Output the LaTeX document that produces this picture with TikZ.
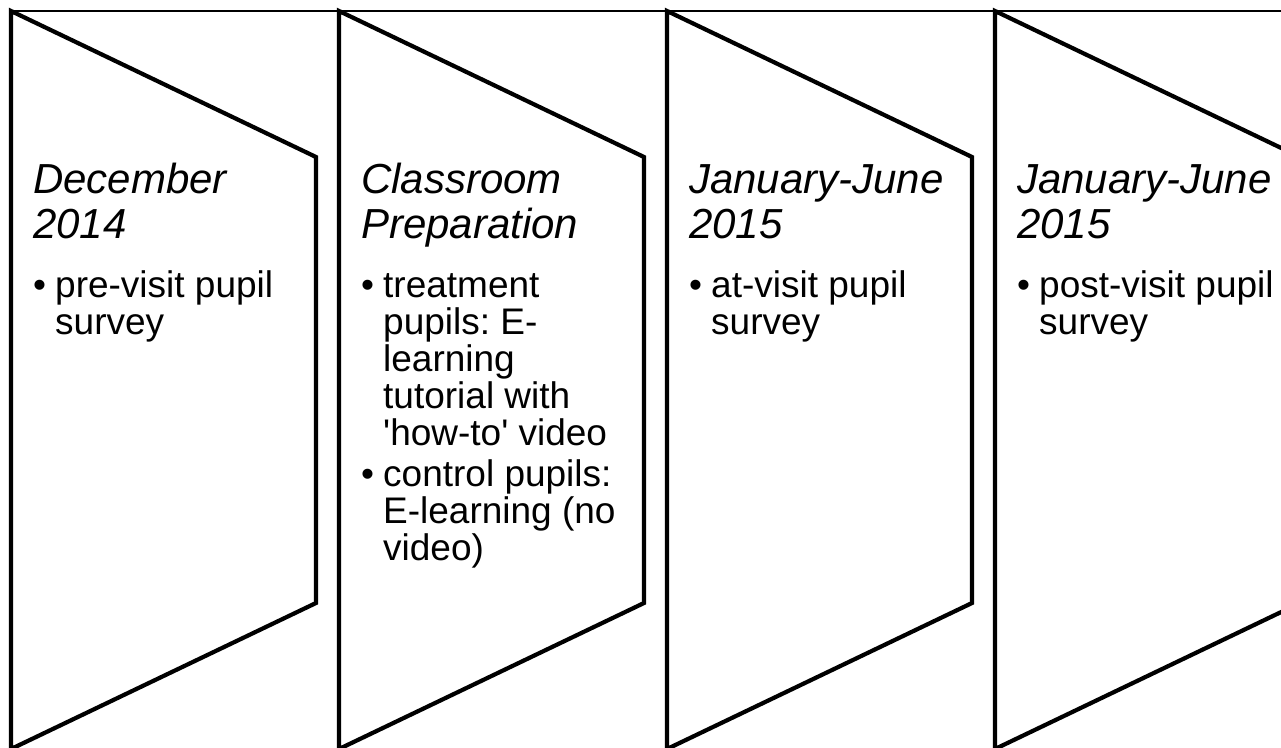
\documentclass[tikz,border=0pt]{standalone}
\usepackage{fontspec}
\usepackage{tikz}
\usetikzlibrary{positioning}
\newfontfamily\stagefont{Liberation Sans}
\newcommand{\headtext}{\stagefont\itshape\fontsize{42}{45}\selectfont}
\newcommand{\itemtext}{\stagefont\fontsize{37}{37.2}\selectfont}
\newcommand{\stagebox}[1]{\parbox[t]{285pt}{\frenchspacing\setlength{\parskip}{3pt}#1}}
\newcommand{\bul}{\par\hangindent=22pt\hangafter=1\noindent\makebox[22pt][l]{\textbullet}}
\tikzset{
    stage/.style={draw, line width=4.2pt, miter limit=10},
    topline/.style={line width=1.5pt},
    stagehead/.style={anchor=base west, inner sep=0pt, font=\headtext},
    stageitem/.style={anchor=base west, inner sep=0pt, font=\itemtext}
}
\begin{document}
\begin{tikzpicture}[x=1pt, y=-1pt]
    \useasboundingbox (0,0) rectangle (1281,747);
    \clip (0,0) rectangle (1281,747);

    % outlines of the four stages
    \foreach \x [count=\i] in {11,339,667,995} {
        \coordinate (c\i) at (\x,11);
        \draw[stage] (c\i) -- ++(305,146) -- ++(0,446) -- ++(-305,146) -- cycle;
    }
    \draw[topline] (c1) -- (1281,11);

    \node[stagehead] (head1) at ([shift={(22,182)}]c1) {\stagebox{December\\2014}};
    \node[stageitem] (item1) at ([shift={(22,286)}]c1) {\stagebox{\bul pre-visit pupil\\survey}};

    \node[stagehead] (head2) at ([shift={(22,182)}]c2) {\stagebox{Classroom\\Preparation}};
    \node[stageitem] (item2) at ([shift={(22,286)}]c2) {\stagebox{%
        \bul treatment\\pupils: E-\\learning\\tutorial with\\'how-to' video
        \bul control pupils:\\E-learning (no\\video)}};

    \node[stagehead] (head3) at ([shift={(22,182)}]c3) {\stagebox{January-June\\2015}};
    \node[stageitem] (item3) at ([shift={(22,286)}]c3) {\stagebox{\bul at-visit pupil\\survey}};

    \node[stagehead] (head4) at ([shift={(22,182)}]c4) {\stagebox{January-June\\2015}};
    \node[stageitem] (item4) at ([shift={(22,286)}]c4) {\stagebox{\bul post-visit pupil\\survey}};
\end{tikzpicture}
\end{document}
